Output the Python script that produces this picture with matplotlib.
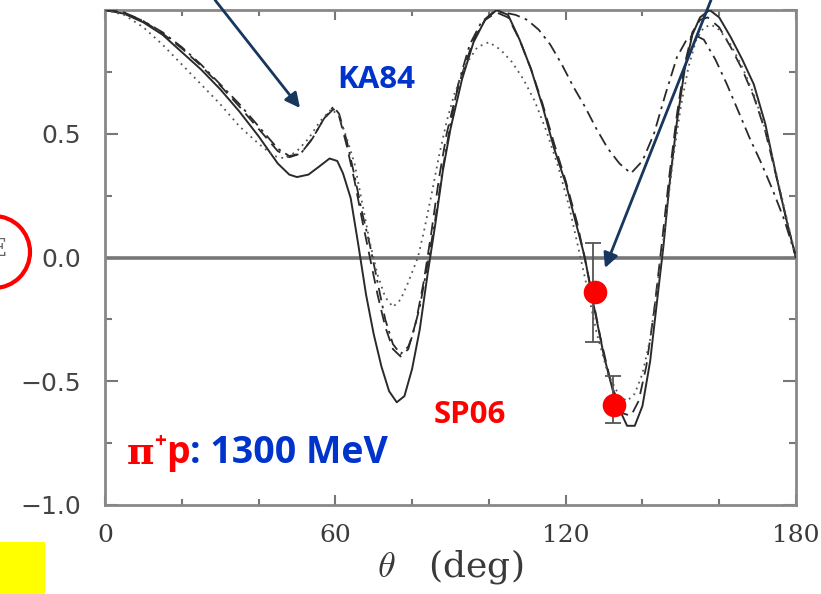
import numpy as np
import matplotlib
matplotlib.use("Agg")
import matplotlib.pyplot as plt
from matplotlib.patches import Ellipse, Rectangle

plt.rcParams["mathtext.fontset"] = "cm"

# solid curve
solid_th = [0, 5, 10, 15, 20, 25, 30, 35, 40, 45, 48, 50, 53, 56, 58.5, 60.5, 62, 64, 66, 68,
            70, 72, 74, 76, 78, 80, 82, 84, 86, 88, 90, 93, 96, 99, 102, 105, 108, 111, 114, 117,
            120, 123, 125, 127, 130, 133, 136, 138, 140, 142, 144, 145.5, 147, 149, 151, 153, 155,
            157.5, 160, 163, 166, 169, 172, 175, 178, 180]
solid_y = [1.0, 0.985, 0.95, 0.90, 0.83, 0.76, 0.68, 0.59, 0.49, 0.38, 0.335, 0.325, 0.335, 0.37,
           0.40, 0.39, 0.34, 0.24, 0.05, -0.15, -0.31, -0.44, -0.54, -0.585, -0.56, -0.45, -0.29,
           -0.07, 0.13, 0.35, 0.52, 0.72, 0.87, 0.96, 1.0, 0.98, 0.88, 0.76, 0.61, 0.44, 0.30, 0.12,
           0.0, -0.17, -0.40, -0.58, -0.68, -0.68, -0.60, -0.42, -0.15, 0.05, 0.29, 0.55, 0.76,
           0.90, 0.97, 1.0, 0.97, 0.89, 0.80, 0.70, 0.54, 0.32, 0.12, 0.0]

# dashed curve
dash_th = [0, 5, 10, 15, 20, 25, 30, 35, 40, 45, 48, 51, 54, 57, 59.5, 61, 63, 65, 67, 69, 71, 73,
           75, 77, 79, 81, 83, 85, 87, 89, 91, 93, 96, 99, 102, 105, 108, 111, 114, 117, 120, 123,
           126, 129, 132, 135, 137, 139, 141, 143, 145, 147, 149, 151, 153, 155, 157, 160, 163, 166,
           169, 172, 175, 178, 180]
dash_y = [1.0, 0.99, 0.955, 0.905, 0.845, 0.775, 0.695, 0.61, 0.52, 0.43, 0.405, 0.42, 0.48, 0.56,
          0.60, 0.57, 0.45, 0.31, 0.15, 0.0, -0.15, -0.28, -0.37, -0.40, -0.37, -0.26, -0.10, 0.10,
          0.32, 0.50, 0.63, 0.74, 0.88, 0.96, 0.99, 0.97, 0.88, 0.76, 0.62, 0.46, 0.31, 0.14, -0.08,
          -0.32, -0.52, -0.63, -0.64, -0.58, -0.44, -0.22, 0.05, 0.33, 0.58, 0.78, 0.91, 0.96, 0.97,
          0.93, 0.85, 0.76, 0.65, 0.51, 0.32, 0.12, 0.0]

# dash-dot curve
dd_th = [0, 5, 10, 15, 20, 25, 30, 35, 40, 45, 48, 51, 54, 57, 59.5, 61, 63, 65, 67, 69, 71, 73, 75,
         77, 79, 80, 82, 84, 86, 88, 90, 92, 95, 98, 101, 104, 107, 110, 113, 116, 119, 122, 125,
         128, 131, 134, 137, 140, 143, 146, 149, 151.5, 153.5, 156, 159, 162, 165, 168, 171, 174,
         177, 180]
dd_y = [1.0, 0.99, 0.955, 0.91, 0.85, 0.78, 0.70, 0.62, 0.53, 0.44, 0.41, 0.42, 0.48, 0.56, 0.61,
        0.58, 0.47, 0.33, 0.18, 0.05, -0.10, -0.25, -0.35, -0.39, -0.36, -0.32, -0.20, -0.03, 0.15,
        0.36, 0.54, 0.70, 0.86, 0.95, 0.99, 0.99, 0.98, 0.96, 0.92, 0.86, 0.78, 0.69, 0.61, 0.52,
        0.44, 0.38, 0.34, 0.39, 0.50, 0.66, 0.81, 0.88, 0.90, 0.88, 0.80, 0.70, 0.59, 0.48, 0.38,
        0.27, 0.15, 0.0]

# dotted curve
dot_th = [0, 5, 10, 15, 20, 25, 30, 35, 40, 44, 47, 50, 53, 56, 59, 61, 63, 65, 67, 69, 71, 73, 75,
          77, 79, 81.5, 83, 85, 87, 89, 91, 94, 97, 100, 103, 106, 109, 112, 115, 118, 121, 123, 125,
          128, 131, 134, 136, 138, 140, 142, 144, 146, 148, 150, 152, 154, 156, 158, 160, 163, 166,
          169, 172, 175, 178, 180]
dot_y = [1.0, 0.98, 0.93, 0.86, 0.78, 0.70, 0.62, 0.53, 0.46, 0.41, 0.40, 0.43, 0.48, 0.55, 0.60,
         0.57, 0.48, 0.38, 0.22, 0.06, -0.07, -0.16, -0.20, -0.17, -0.10, 0.0, 0.10, 0.25, 0.41,
         0.55, 0.66, 0.78, 0.85, 0.87, 0.84, 0.79, 0.72, 0.63, 0.51, 0.37, 0.20, 0.06, -0.08, -0.30,
         -0.47, -0.56, -0.58, -0.55, -0.47, -0.33, -0.10, 0.14, 0.40, 0.61, 0.77, 0.88, 0.93, 0.94,
         0.92, 0.86, 0.77, 0.66, 0.52, 0.33, 0.13, 0.0]

# measured points (grey, with errors) and the highlighted red ones
data_th = [127.1, 132.3]
data_y = [-0.14, -0.575]
data_err = [0.20, 0.095]
red_th = [127.6, 132.6]
red_y = [-0.14, -0.597]

fig = plt.figure(figsize=(8.21, 5.94), dpi=100)
ax = fig.add_axes([105 / 821, 89 / 594, 691 / 821, 495 / 594])

ax.axhline(0, color="#777777", lw=2.6, zorder=1)

line_col = "#2a2a2a"
ax.plot(solid_th, solid_y, color=line_col, lw=1.4, zorder=3)
ax.plot(dash_th, dash_y, color=line_col, lw=1.3, ls=(0, (7, 4)), zorder=3)
ax.plot(dd_th, dd_y, color=line_col, lw=1.3, ls=(0, (7, 3, 1.5, 3)), zorder=3)
ax.plot(dot_th, dot_y, color="#555555", lw=1.3, ls=(0, (1, 2.5)), zorder=3)

ax.errorbar(data_th, data_y, yerr=data_err, fmt="none", ecolor="#555555", elinewidth=1.3,
            capsize=6, capthick=1.3, zorder=4)
ax.plot(red_th, red_y, "o", color="#ff0000", ms=17, mec="none", zorder=6)

ax.set_xlim(0, 180)
ax.set_ylim(-1, 1)
ax.set_xticks([0, 60, 120, 180])
ax.set_xticks(np.arange(0, 181, 20), minor=True)
ax.set_yticks([-1, -0.5, 0, 0.5, 1])
ax.set_yticklabels(["\u22121.0", "\u22120.5", "0.0", "0.5", ""], fontsize=18,
                   family="DejaVu Sans", color="#444444")
ax.set_yticks(np.arange(-1, 1.01, 0.25), minor=True)
ax.set_xticklabels(["0", "60", "120", "180"], fontsize=18, family="DejaVu Serif", color="#3a3a3a")

ax.tick_params(which="both", direction="in", top=True, right=True, color="#777777", width=1.5)
ax.tick_params(axis="x", which="major", length=7, pad=14)
ax.tick_params(axis="x", which="minor", length=4)
ax.tick_params(axis="y", which="major", length=9.5, pad=17)
ax.tick_params(axis="y", which="minor", length=5)
for s in ax.spines.values():
    s.set_color("#888888")
    s.set_linewidth(2)

ax.set_xlabel(r"$\theta$   (deg)", fontsize=26, family="DejaVu Serif", color="#3a3a3a", labelpad=0)

# labels
ax.text(376 / 821, 1 - 80 / 594, "KA84", transform=fig.transFigure, ha="center", va="center",
        fontsize=22.5, fontweight="bold", family="Open Sans", color="#0033cc")
ax.text(470 / 821, 1 - 415 / 594, "SP06", transform=fig.transFigure, ha="center", va="center",
        fontsize=22.5, fontweight="bold", family="Open Sans", color="#ff0000")

t1 = fig.text(127 / 821, 1 - 464 / 594, "\u03c0", fontsize=27, fontweight="bold",
              family="DejaVu Serif", color="#ff0000", va="baseline")
t2 = ax.annotate("+", xy=(1, 0.55), xycoords=t1, fontsize=15, fontweight="bold",
                 family="Open Sans", color="#ff0000", va="bottom")
t3 = ax.annotate("p", xy=(1, 0), xycoords=(t2, t1), fontsize=27, fontweight="bold",
                 family="Open Sans", color="#ff0000", va="bottom")
ax.annotate(": 1300 MeV", xy=(1, 0), xycoords=t3, fontsize=27, fontweight="bold",
            family="Open Sans", color="#0033cc", va="bottom")

# arrows
arrow_kw = dict(arrowstyle="-|>", color="#17375e", lw=2, mutation_scale=22, shrinkA=0, shrinkB=0)
ax.annotate("", xy=(300 / 821, 1 - 108 / 594), xycoords="figure fraction",
            xytext=(215 / 821, 1.0), textcoords="figure fraction", arrowprops=arrow_kw,
            annotation_clip=False)
ax.annotate("", xy=(605 / 821, 1 - 268 / 594), xycoords="figure fraction",
            xytext=(711 / 821, 1.0), textcoords="figure fraction", arrowprops=arrow_kw,
            annotation_clip=False)

# red circle at the left edge, partly cut label, yellow box
fig.patches.append(Ellipse((-6 / 821, 1 - 252 / 594), 72 / 821, 72 / 594, transform=fig.transFigure,
                           fill=False, edgecolor="#ff0000", lw=3))
fig.text(7 / 821, 1 - 250 / 594, "E", fontsize=17, family="DejaVu Serif", color="#666666",
         ha="right", va="center")
fig.patches.append(Rectangle((0, 0), 45 / 821, 52 / 594, transform=fig.transFigure,
                             facecolor="#ffff00", edgecolor="none"))

fig.savefig("out.png", dpi=100)
